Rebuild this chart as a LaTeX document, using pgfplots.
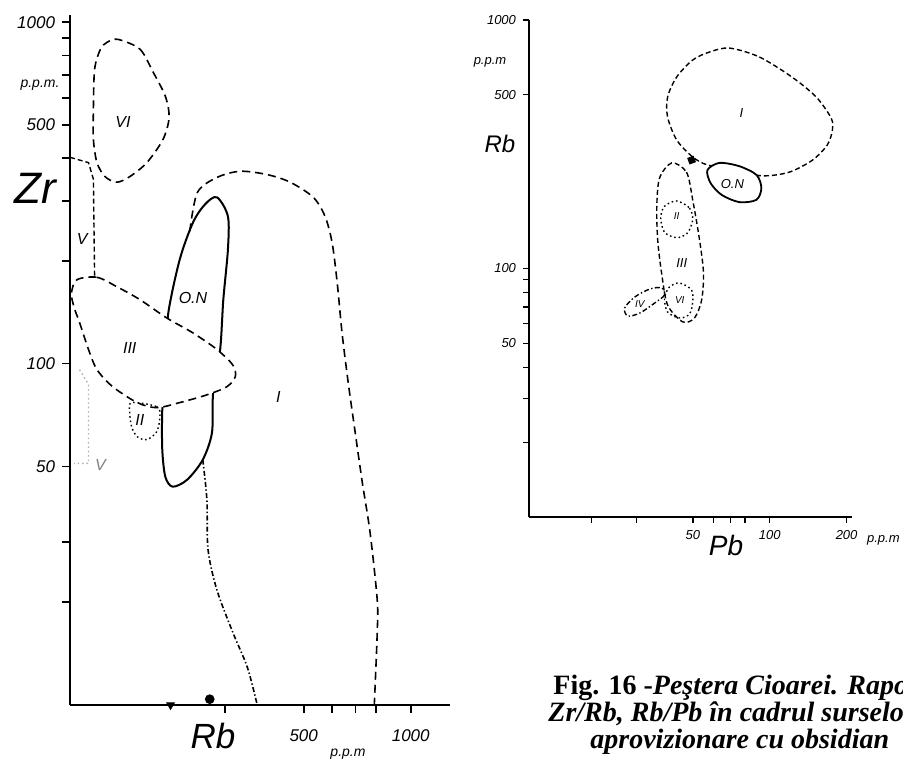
\documentclass[border=0pt]{standalone}
\usepackage{fontspec}
\setmainfont{Liberation Serif}
\setsansfont{Liberation Sans}
\usepackage{pgfplots}
\pgfplotsset{compat=1.18}

\newcommand{\hand}{\sffamily\itshape}

\tikzset{
  zone/.style={line width=0.8pt, black, dash pattern=on 4pt off 2.5pt},
  zonesm/.style={line width=0.7pt, black, dash pattern=on 2.5pt off 1.5pt},
  dotline/.style={line width=0.7pt, black, dash pattern=on 0.8pt off 1.4pt},
  dashdot/.style={line width=0.7pt, black, dash pattern=on 2.5pt off 1.2pt on 0.7pt off 1.2pt},
  lbl/.style={font=\hand\fontsize{8}{9}\selectfont},
  lbs/.style={font=\hand\fontsize{6.5}{7}\selectfont},
  lbt/.style={font=\hand\fontsize{5}{6}\selectfont},
  capt/.style={anchor=base west, inner sep=0pt, font=\fontsize{14}{15}\selectfont},
}

\begin{document}
\begin{tikzpicture}

% ---- Zr / Rb ----
\begin{axis}[
  scale only axis,
  xmode=log, ymode=log,
  at={(35pt,-352.5pt)}, anchor=south west,
  width=190pt, height=345pt,
  xmin=110, xmax=1290, ymin=10, ymax=1050,
  axis x line*=bottom, axis y line*=left,
  axis line style={line width=1pt},
  tick style={line width=0.8pt,black},
  tick align=outside, major tick length=4pt,
  xminorticks=false, yminorticks=false, clip=false,
  xtick={300,500,600,700,800,1000},
  xticklabels={,500,,,,1000},
  ytick={20,30,50,100,200,300,400,500,600,700,800,900,1000},
  yticklabels={,,50,100,,,,500,,,,,1000},
  ticklabel style={font=\hand\fontsize{8.5}{10}\selectfont},
  xticklabel style={yshift=-5pt},
]
% I
\addplot[zone, smooth] coordinates {
  (239,244) (251,317) (285,351) (331,366) (394,358) (458,340) (532,307)
  (574,270) (601,226) (621,173) (641,123) (667,88) (698,62.8) (731,44.8)
  (769,31.9) (805,20.3) (805,16.3) (790,10)
};
\addplot[dashdot, line width=0.8pt, smooth] coordinates {
  (260,52.3) (267,39.9) (269,28.5) (285,21.7) (316,16.3) (347,12.9) (370,10)
};
% VI
\addplot[zone, smooth cycle] coordinates {
  (150,891) (173,834) (188,718) (204,607) (209,526) (201,454) (181,388)
  (162,353) (149,340) (138,353) (131,388) (128,454) (128,556) (129,728)
  (134,834) (140,874)
};
% V
\addplot[zonesm] coordinates {(110,402) (124,388) (128,347) (129,179)};
\addplot[dotline, gray!60] coordinates {(117,96) (124,87) (124,51) (113,51)};
% O.N
\addplot[line width=1pt, black, smooth cycle] coordinates {
  (285,307) (306,270) (306,216) (297,154) (291,110) (278,82.2) (276,62.8)
  (260,52.3) (235,45.7) (214,43.6) (204,46.6) (200,56) (200,73.3) (204,103)
  (208,141) (224,202) (244,259) (264,293)
};
% III
\addplot[zone, fill=white, smooth cycle] coordinates {
  (115,176) (131,179) (149,168) (173,154) (206,136) (244,123) (285,110)
  (316,99) (321,91.6) (304,85.6) (267,81) (224,76.9) (193,74.3) (170,76.9)
  (145,85.6) (131,96) (124,110) (117,132) (113.5,144) (111,160)
};
% II
\addplot[dotline, smooth cycle] coordinates {
  (164,76.9) (193,74.8) (197,70) (193,63.2) (181,59.9) (170,61.1) (164,65.3) (162,71.8)
};
% samples on the axis
\addplot[only marks, mark=triangle*, mark size=2.2pt, mark options={rotate=180, fill=black}]
  coordinates {(211,10)};
\addplot[only marks, mark=*, mark size=2.2pt, mark options={fill=black}]
  coordinates {(272,10.4)};

\node[lbl] at (axis cs:155,509) {VI};
\node[lbl] at (axis cs:119,231) {V};
\node[lbl, gray] at (axis cs:134,50.6) {V};
\node[lbl] at (axis cs:162,111) {III};
\node[lbl] at (axis cs:173,68.5) {II};
\node[lbl] at (axis cs:244,156) {O.N};
\node[lbl] at (axis cs:424,80) {I};
\end{axis}

% ---- Rb / Pb ----
\begin{axis}[
  scale only axis,
  xmode=log, ymode=log,
  at={(264.5pt,-258.5pt)}, anchor=south west,
  width=161.5pt, height=248.5pt,
  xmin=11.4, xmax=210, ymin=10, ymax=1000,
  axis x line*=bottom, axis y line*=left,
  axis line style={line width=0.9pt},
  tick style={line width=0.6pt,black},
  tick align=outside, major tick length=3pt,
  xminorticks=false, yminorticks=false, clip=false,
  xtick={20,30,50,60,70,80,100,200},
  xticklabels={,,50,,,,100,200},
  ytick={20,30,40,50,60,70,80,90,100,500,1000},
  yticklabels={,,,50,,,,,100,500,1000},
  ticklabel style={font=\hand\fontsize{6.5}{8}\selectfont},
]
% I
\addplot[zonesm, smooth cycle] coordinates {
  (69.5,771) (91,710) (122,590) (152,490) (174,403) (176,361) (168,314)
  (147,273) (119,244) (93.5,236) (72.7,249) (57,261) (49.9,281) (43.2,329)
  (39.8,407) (39.8,490) (43.2,590) (49.9,690) (58,743)
};
% O.N
\addplot[line width=0.9pt, black, fill=white, smooth cycle] coordinates {
  (57,249) (63.5,266) (76,258) (88.7,238) (92.7,211) (88.7,189) (76,185)
  (64.7,198) (58.6,221)
};
% III
\addplot[zonesm, smooth cycle] coordinates {
  (41.3,266) (47.2,244) (49.9,189) (53.1,130) (55,96) (54.1,74.7) (50.7,63.2)
  (45.6,61) (39.8,71.3) (37.7,96) (36.4,130) (36.1,177) (37,231)
};
% II
\addplot[dotline, smooth cycle] coordinates {
  (43.2,187) (48.5,175) (49.9,157) (47.6,139) (43.2,133) (38.7,140) (37.4,160) (38.7,178)
};
% VI
\addplot[dotline, smooth cycle] coordinates {
  (44.4,87.4) (49.4,81.9) (49.9,73.3) (48.5,65.6) (44.4,63.2) (39.8,66.8) (38.7,76) (40.5,84.3)
};
% IV
\addplot[dashdot, smooth cycle] coordinates {
  (37.7,83.5) (38.7,78.2) (35.4,72.6) (31,66.2) (27.8,64.4) (27,69.3) (29.6,76.8) (33.9,82.7)
};
\addplot[only marks, mark=square*, mark size=1.5pt, mark options={fill=black, rotate=20}]
  coordinates {(49.4,273)};

\node[lbs] at (axis cs:77.5,422) {I};
\node[lbs] at (axis cs:71.4,219) {O.N};
\node[lbs] at (axis cs:45.2,105) {III};
\node[lbt] at (axis cs:43.2,163) {II};
\node[lbt] at (axis cs:44.4,74.5) {VI};
\node[lbt] at (axis cs:31,72) {IV};
\end{axis}

% axis titles and units
\node[font=\hand\fontsize{22}{22}\selectfont] at (17.5pt,-94pt) {Zr};
\node[font=\hand\fontsize{7}{8}\selectfont] at (20pt,-42.5pt) {p.p.m.};
\node[font=\hand\fontsize{17.5}{18}\selectfont] at (106.5pt,-368pt) {Rb};
\node[font=\hand\fontsize{7}{8}\selectfont] at (174pt,-377pt) {p.p.m};
\node[font=\hand\fontsize{12}{12}\selectfont] at (250pt,-72pt) {Rb};
\node[font=\hand\fontsize{6.5}{7}\selectfont] at (245pt,-31pt) {p.p.m};
\node[font=\hand\fontsize{14}{14}\selectfont] at (363pt,-272.5pt) {Pb};
\node[anchor=west, font=\hand\fontsize{6.5}{7}\selectfont] at (430pt,-270pt) {p.p.m};

% caption, cut by the right edge as in the scan
\node[capt] at (276.5pt,-347pt)
  {\textbf{Fig. 16 -}\textbf{\textit{Peştera Cioarei. Raportul}}};
\node[capt] at (274pt,-360.5pt)
  {\textbf{\textit{Zr/Rb, Rb/Pb în cadrul surselor de}}};
\node[capt] at (295pt,-374pt)
  {\textbf{\textit{aprovizionare cu obsidian}}};

\pgfresetboundingbox
\path[use as bounding box] (0pt,0pt) rectangle (451.5pt,-381.5pt);
\end{tikzpicture}
\end{document}
